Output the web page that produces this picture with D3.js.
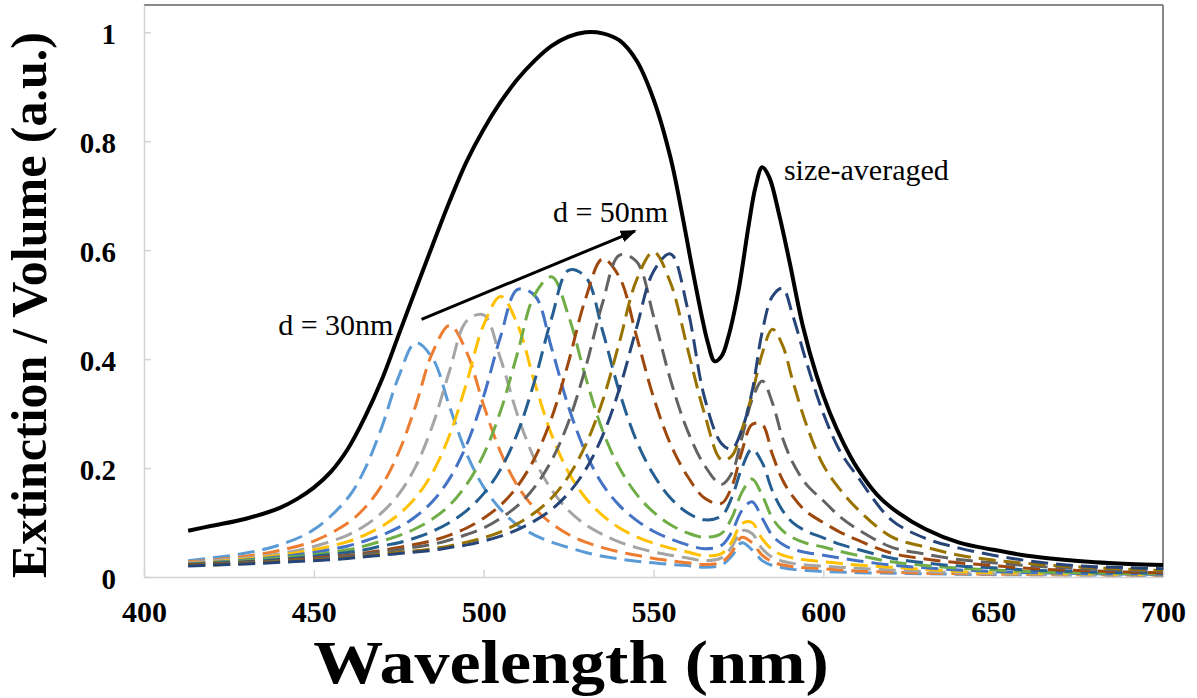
<!DOCTYPE html>
<html>
<head>
<meta charset="utf-8">
<script src="https://cdn.jsdelivr.net/npm/d3@7"></script>
<style>
body { margin: 0; background: #fff; }
text { font-family: "Liberation Serif", "Times New Roman", serif; }
</style>
</head>
<body>
<script>
// wavelength grid (nm) shared by the single-size spectra
var wavelengths = [413, 420, 430, 440, 450, 460, 465, 470, 475, 480,
    485, 490, 495, 500, 505, 510, 515, 520, 525, 530,
    535, 540, 545, 550, 555, 560, 565, 570, 573, 576,
    579, 582, 585, 588, 591, 595, 600, 605, 610, 620,
    630, 640, 650, 660, 670, 680, 690, 700];

var d30 = [0.030, 0.035, 0.044, 0.059, 0.087, 0.145, 0.198, 0.275, 0.368, 0.430,
    0.401, 0.312, 0.226, 0.165, 0.124, 0.095, 0.077, 0.064, 0.054, 0.045,
    0.038, 0.033, 0.029, 0.026, 0.023, 0.021, 0.018, 0.022, 0.038, 0.063,
    0.050, 0.030, 0.021, 0.017, 0.014, 0.012, 0.010, 0.009, 0.008, 0.007,
    0.006, 0.005, 0.0045, 0.004, 0.004, 0.0035, 0.0035, 0.003];
var d32 = [0.028, 0.031, 0.038, 0.049, 0.066, 0.099, 0.127, 0.168, 0.229, 0.315,
    0.413, 0.462, 0.413, 0.315, 0.229, 0.167, 0.126, 0.098, 0.078, 0.064,
    0.054, 0.046, 0.040, 0.034, 0.030, 0.026, 0.023, 0.027, 0.045, 0.073,
    0.063, 0.040, 0.028, 0.022, 0.019, 0.017, 0.015, 0.013, 0.011, 0.009,
    0.007, 0.006, 0.005, 0.0045, 0.004, 0.004, 0.0035, 0.0035];
var d34 = [0.026, 0.030, 0.035, 0.043, 0.056, 0.077, 0.094, 0.118, 0.152, 0.203,
    0.279, 0.379, 0.470, 0.481, 0.400, 0.297, 0.216, 0.160, 0.122, 0.096,
    0.078, 0.064, 0.054, 0.046, 0.040, 0.035, 0.030, 0.035, 0.055, 0.085,
    0.080, 0.052, 0.036, 0.029, 0.025, 0.022, 0.020, 0.018, 0.016, 0.013,
    0.010, 0.008, 0.006, 0.0055, 0.005, 0.0045, 0.004, 0.004];
var d36 = [0.025, 0.028, 0.033, 0.040, 0.050, 0.065, 0.077, 0.093, 0.115, 0.146,
    0.192, 0.261, 0.357, 0.463, 0.515, 0.463, 0.357, 0.261, 0.192, 0.145,
    0.113, 0.090, 0.074, 0.062, 0.053, 0.046, 0.039, 0.043, 0.064, 0.098,
    0.100, 0.070, 0.050, 0.040, 0.035, 0.031, 0.028, 0.025, 0.022, 0.018,
    0.014, 0.010, 0.008, 0.007, 0.006, 0.0055, 0.005, 0.0045];
var d38 = [0.024, 0.027, 0.031, 0.037, 0.045, 0.057, 0.066, 0.077, 0.091, 0.111,
    0.139, 0.181, 0.243, 0.332, 0.442, 0.528, 0.517, 0.420, 0.312, 0.229,
    0.170, 0.131, 0.104, 0.084, 0.070, 0.059, 0.052, 0.058, 0.082, 0.122,
    0.138, 0.108, 0.076, 0.060, 0.051, 0.045, 0.040, 0.035, 0.030, 0.022,
    0.017, 0.013, 0.010, 0.008, 0.007, 0.006, 0.0055, 0.005];
var d40 = [0.023, 0.026, 0.030, 0.035, 0.041, 0.050, 0.057, 0.066, 0.076, 0.089,
    0.107, 0.132, 0.170, 0.225, 0.305, 0.412, 0.518, 0.551, 0.479, 0.367,
    0.269, 0.200, 0.152, 0.119, 0.096, 0.081, 0.073, 0.080, 0.108, 0.155,
    0.180, 0.150, 0.108, 0.085, 0.072, 0.062, 0.055, 0.047, 0.040, 0.028,
    0.021, 0.016, 0.013, 0.010, 0.0085, 0.0075, 0.0065, 0.006];
var d42 = [0.023, 0.025, 0.028, 0.032, 0.038, 0.045, 0.050, 0.057, 0.063, 0.072,
    0.084, 0.100, 0.122, 0.153, 0.198, 0.265, 0.360, 0.475, 0.563, 0.551,
    0.452, 0.339, 0.250, 0.188, 0.145, 0.118, 0.105, 0.112, 0.145, 0.200,
    0.235, 0.210, 0.158, 0.122, 0.100, 0.084, 0.072, 0.060, 0.051, 0.035,
    0.026, 0.020, 0.017, 0.013, 0.011, 0.009, 0.008, 0.007];
var d44 = [0.022, 0.024, 0.027, 0.030, 0.035, 0.040, 0.044, 0.049, 0.054, 0.060,
    0.067, 0.077, 0.090, 0.108, 0.132, 0.167, 0.218, 0.292, 0.395, 0.511,
    0.584, 0.550, 0.442, 0.330, 0.244, 0.185, 0.145, 0.135, 0.165, 0.230,
    0.280, 0.280, 0.225, 0.178, 0.148, 0.120, 0.100, 0.082, 0.068, 0.044,
    0.033, 0.026, 0.021, 0.016, 0.013, 0.011, 0.009, 0.008];
var d46 = [0.021, 0.023, 0.026, 0.029, 0.033, 0.038, 0.042, 0.046, 0.050, 0.055,
    0.060, 0.068, 0.078, 0.090, 0.108, 0.131, 0.165, 0.214, 0.285, 0.384,
    0.503, 0.591, 0.579, 0.479, 0.362, 0.269, 0.205, 0.170, 0.190, 0.255,
    0.325, 0.360, 0.320, 0.255, 0.210, 0.170, 0.140, 0.110, 0.088, 0.055,
    0.042, 0.032, 0.026, 0.021, 0.017, 0.014, 0.012, 0.010];
var d48 = [0.021, 0.022, 0.025, 0.028, 0.031, 0.035, 0.038, 0.042, 0.045, 0.048,
    0.052, 0.057, 0.064, 0.072, 0.083, 0.098, 0.118, 0.145, 0.185, 0.242,
    0.323, 0.432, 0.545, 0.597, 0.540, 0.420, 0.300, 0.215, 0.222, 0.270,
    0.335, 0.410, 0.455, 0.425, 0.360, 0.280, 0.205, 0.160, 0.125, 0.074,
    0.055, 0.040, 0.031, 0.025, 0.020, 0.017, 0.014, 0.012];
var d50 = [0.020, 0.022, 0.024, 0.027, 0.030, 0.034, 0.037, 0.040, 0.043, 0.046,
    0.049, 0.054, 0.059, 0.066, 0.075, 0.087, 0.103, 0.124, 0.154, 0.197,
    0.259, 0.346, 0.457, 0.561, 0.593, 0.494, 0.330, 0.245, 0.235, 0.270,
    0.340, 0.450, 0.515, 0.530, 0.480, 0.395, 0.300, 0.230, 0.185, 0.105,
    0.071, 0.053, 0.040, 0.030, 0.023, 0.019, 0.017, 0.015];

var sizeSeries = [d30, d32, d34, d36, d38, d40, d42, d44, d46, d48, d50];
var sizeColors = ["#5B9BD5", "#ED7D31", "#A5A5A5", "#FFC000", "#4472C4", "#70AD47",
    "#255E91", "#9E480E", "#636363", "#997300", "#264478"];

// size-averaged spectrum (solid black)
var averagedWavelengths = [413, 420, 430, 440, 445, 450, 455, 460, 465, 470,
    475, 480, 485, 490, 495, 500, 505, 510, 515, 520,
    525, 530, 535, 540, 545, 550, 555, 558, 561, 564,
    566, 568, 570, 572, 575, 578, 580, 582, 584, 587,
    590, 594, 598, 602, 606, 610, 616, 622, 630, 640,
    650, 660, 670, 680, 690, 700];
var averagedValues = [0.085, 0.094, 0.107, 0.127, 0.143, 0.164, 0.193, 0.235, 0.293, 0.362,
    0.445, 0.528, 0.61, 0.69, 0.763, 0.822, 0.872, 0.914, 0.948, 0.975,
    0.992, 1.0, 0.998, 0.985, 0.948, 0.877, 0.77, 0.68, 0.58, 0.485,
    0.43, 0.396, 0.405, 0.44, 0.525, 0.645, 0.715, 0.752, 0.735, 0.665,
    0.58, 0.46, 0.37, 0.30, 0.245, 0.20, 0.15, 0.118, 0.088, 0.063,
    0.05, 0.039, 0.032, 0.027, 0.024, 0.022];

var xTicks = [400, 450, 500, 550, 600, 650, 700];
var xTickLabels = ["400", "450", "500", "550", "600", "650", "700"];
var yTicks = [0, 0.2, 0.4, 0.6, 0.8, 1];
var yTickLabels = ["0", "0.2", "0.4", "0.6", "0.8", "1"];

var x = d3.scaleLinear().domain([400, 700]).range([144, 1163]);
var y = d3.scaleLinear().domain([0, 1.05]).range([577, 5]);

var svg = d3.select("body").append("svg")
    .attr("width", 1197)
    .attr("height", 698);

svg.append("defs").append("marker")
    .attr("id", "head")
    .attr("markerUnits", "userSpaceOnUse")
    .attr("markerWidth", 16)
    .attr("markerHeight", 12)
    .attr("refX", 14)
    .attr("refY", 6)
    .attr("orient", "auto")
    .append("path")
    .attr("d", "M0,0L16,6L0,12Z")
    .attr("fill", "#000");

// frame: top and right edges
svg.append("line")
    .attr("x1", x(400)).attr("x2", x(700))
    .attr("y1", y(1.05)).attr("y2", y(1.05))
    .attr("stroke", "#888").attr("stroke-width", 2);
svg.append("line")
    .attr("x1", x(700)).attr("x2", x(700))
    .attr("y1", y(1.05)).attr("y2", y(0))
    .attr("stroke", "#888").attr("stroke-width", 2);

svg.append("g")
    .attr("transform", "translate(0," + y(0) + ")")
    .call(d3.axisBottom(x).tickValues(xTicks)
        .tickFormat(function(d, i) { return xTickLabels[i]; })
        .tickSize(-7).tickSizeOuter(0).tickPadding(24))
    .call(function(g) {
        g.selectAll("path, line").attr("stroke", "#d4d4d4").attr("stroke-width", 1.5);
        g.selectAll("text").attr("fill", "#000")
            .style("font-size", "30px").style("font-weight", "bold");
    });

svg.append("g")
    .attr("transform", "translate(" + x(400) + ",0)")
    .call(d3.axisLeft(y).tickValues(yTicks)
        .tickFormat(function(d, i) { return yTickLabels[i]; })
        .tickSize(-7).tickSizeOuter(0).tickPadding(28))
    .call(function(g) {
        g.selectAll("path, line").attr("stroke", "#d4d4d4").attr("stroke-width", 1.5);
        g.selectAll("text").attr("fill", "#000").attr("dy", "0.38em")
            .style("font-size", "29px").style("font-weight", "bold");
    });

var line = d3.line()
    .x(function(d, i) { return x(wavelengths[i]); })
    .y(function(d) { return y(d); })
    .curve(d3.curveCatmullRom.alpha(0.5));

svg.selectAll(".size")
    .data(sizeSeries)
    .enter()
    .append("path")
    .attr("class", "size")
    .attr("d", function(d) { return line(d); })
    .attr("fill", "none")
    .attr("stroke", function(d, i) { return sizeColors[i]; })
    .attr("stroke-width", 3)
    .attr("stroke-dasharray", "17,8");

var avgLine = d3.line()
    .x(function(d, i) { return x(averagedWavelengths[i]); })
    .y(function(d) { return y(d); })
    .curve(d3.curveCatmullRom.alpha(0.5));

svg.append("path")
    .attr("d", avgLine(averagedValues))
    .attr("fill", "none")
    .attr("stroke", "#000")
    .attr("stroke-width", 4);

// annotations
svg.append("line")
    .attr("x1", x(481.7)).attr("y1", y(0.473))
    .attr("x2", x(544.5)).attr("y2", y(0.635))
    .attr("stroke", "#000").attr("stroke-width", 3)
    .attr("marker-end", "url(#head)");

svg.append("text").attr("x", x(588.4)).attr("y", y(0.728))
    .style("font-size", "30px").text("size-averaged");
svg.append("text").attr("x", x(520.4)).attr("y", y(0.651))
    .style("font-size", "30px").text("d = 50nm");
svg.append("text").attr("x", x(439.5)).attr("y", y(0.444))
    .style("font-size", "30px").text("d = 30nm");

svg.append("text")
    .attr("transform", "translate(571,683) scale(1.13,1)")
    .attr("text-anchor", "middle")
    .style("font-size", "62px").style("font-weight", "bold")
    .text("Wavelength (nm)");

svg.append("text")
    .attr("transform", "translate(46,305) rotate(-90)")
    .attr("text-anchor", "middle")
    .style("font-size", "50px").style("font-weight", "bold")
    .text("Extinction / Volume (a.u.)");
</script>
</body>
</html>
